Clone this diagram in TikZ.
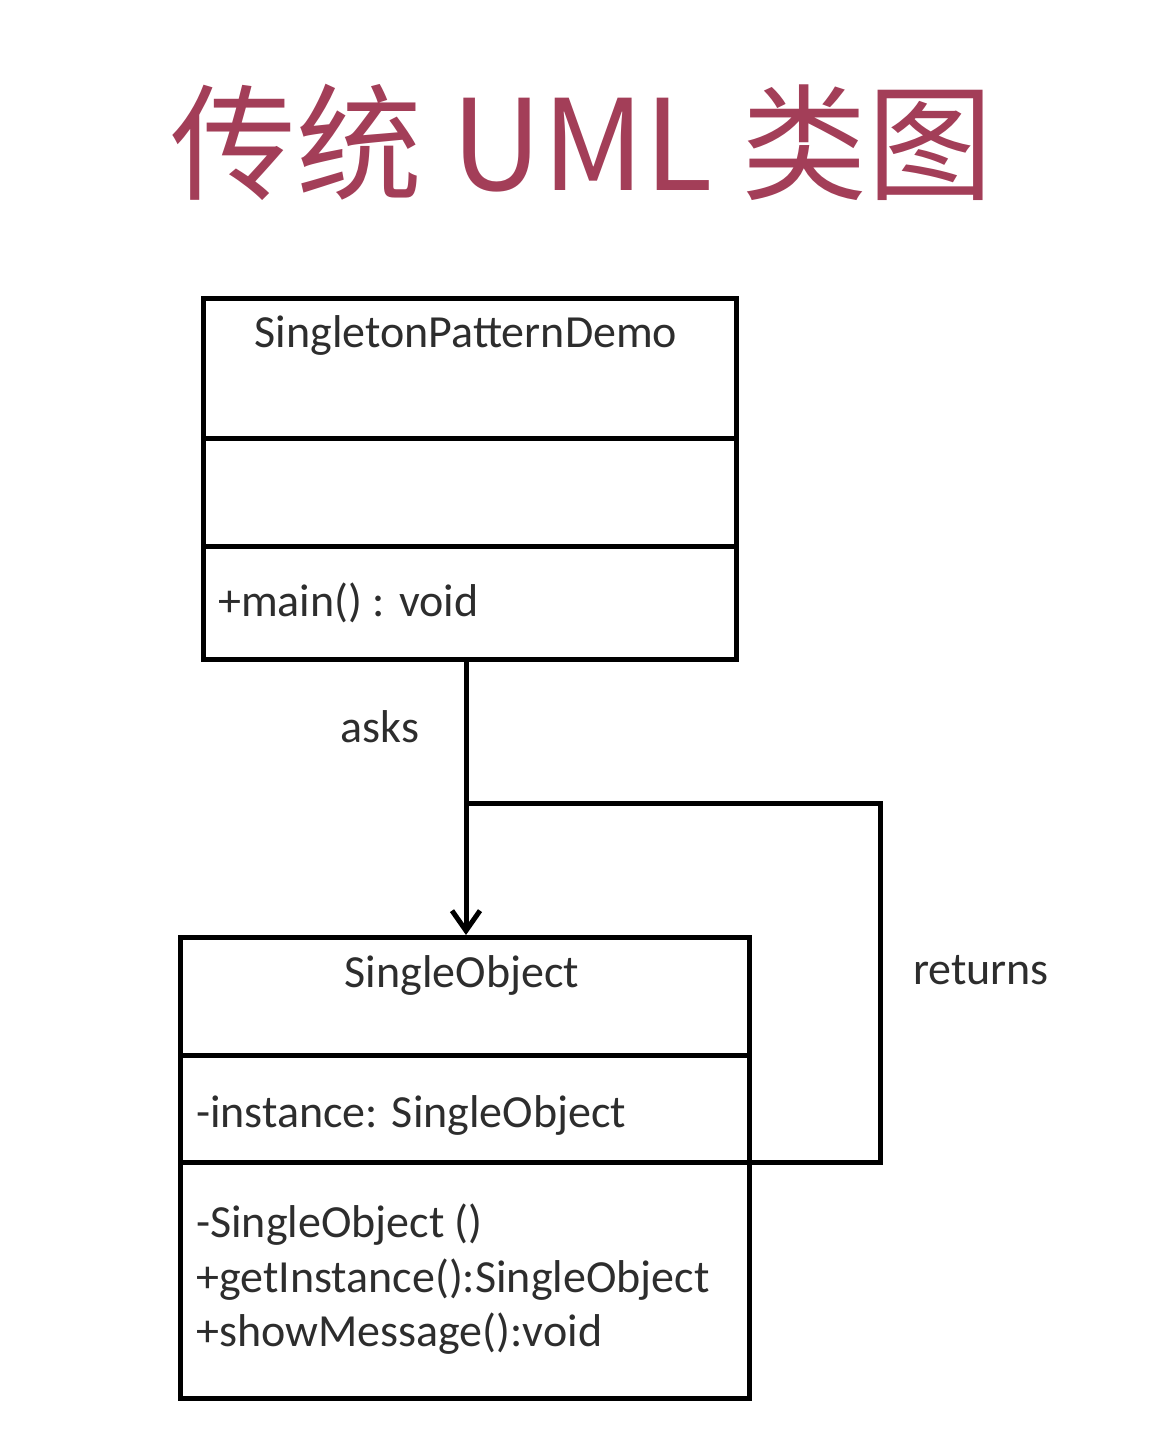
\documentclass[tikz,border=0pt]{standalone}
\usepackage{fontspec}
\setmainfont{Carlito}
\newfontfamily\cjk{Noto Sans CJK SC}
\usetikzlibrary{positioning}
\usetikzlibrary{arrows.meta}
\usetikzlibrary{calc}
\definecolor{titlered}{RGB}{163,62,88}
\definecolor{umltext}{RGB}{45,45,45}

\begin{document}
\begin{tikzpicture}[x=1pt,y=-1pt,
    classbox/.style={draw, line width=5pt, inner sep=0pt, anchor=north west},
    member/.style={anchor=west, inner sep=0pt, text=umltext, font=\fontsize{46}{52}\selectfont},
    cname/.style={inner sep=0pt, text=umltext, font=\fontsize{46}{52}\selectfont},
    link/.style={line width=5pt}]
        \useasboundingbox (0,0) rectangle (1170,1438);

        % Title
        \node[text=titlered, font=\cjk\fontsize{126}{130}\selectfont] (title) at (582,142) {传统 UML 类图};

        % Define the class boxes
        \node[classbox, minimum width=533pt, minimum height=361pt] (demo) at (201,296) {};
        \node[classbox, minimum width=569pt, minimum height=461pt] (single) at (178,935) {};

        % Draw the compartments
        \draw[link] ($(demo.north west)+(0,142)$) -- ($(demo.north east)+(0,142)$);
        \draw[link] ($(demo.north west)+(0,250)$) -- ($(demo.north east)+(0,250)$);
        \draw[link] ($(single.north west)+(0,120)$) coordinate (sattr) -- ($(single.north east)+(0,120)$);
        \draw[link] ($(single.north west)+(0,227)$) -- ($(single.north east)+(0,227)$) coordinate (sops);

        % Texts of the classes
        \node[cname] (demoname) at (466,335) {SingletonPatternDemo};
        \node[member] (demomain) at (218,603) {+main() : void};
        \node[cname] (singlename) at (462,975) {SingleObject};
        \node[member] (singleattr) at (196,1115) {-instance: SingleObject};

        \foreach \name/\y/\text in {ctor/1225/-SingleObject (),
                                    getinst/1280/+getInstance():SingleObject,
                                    show/1334/+showMessage():void}
        \node[member] (\name) at (196,\y) {\text};

        % Draw the links
        \coordinate (ask) at (466,657);
        \coordinate (junc) at (466,803);
        \coordinate (corner) at (880,803);
        \draw[link, -{Straight Barb[length=20pt,width=28pt,line width=5pt]}] (ask) -- (ask |- single.north);
        \draw[link] (junc) -- (corner) -- (corner |- sops) -- (sops);

        \node[cname] (asks) at (380,727) {asks};
        \node[cname] (returns) at (981,970) {returns};
\end{tikzpicture}
\end{document}
